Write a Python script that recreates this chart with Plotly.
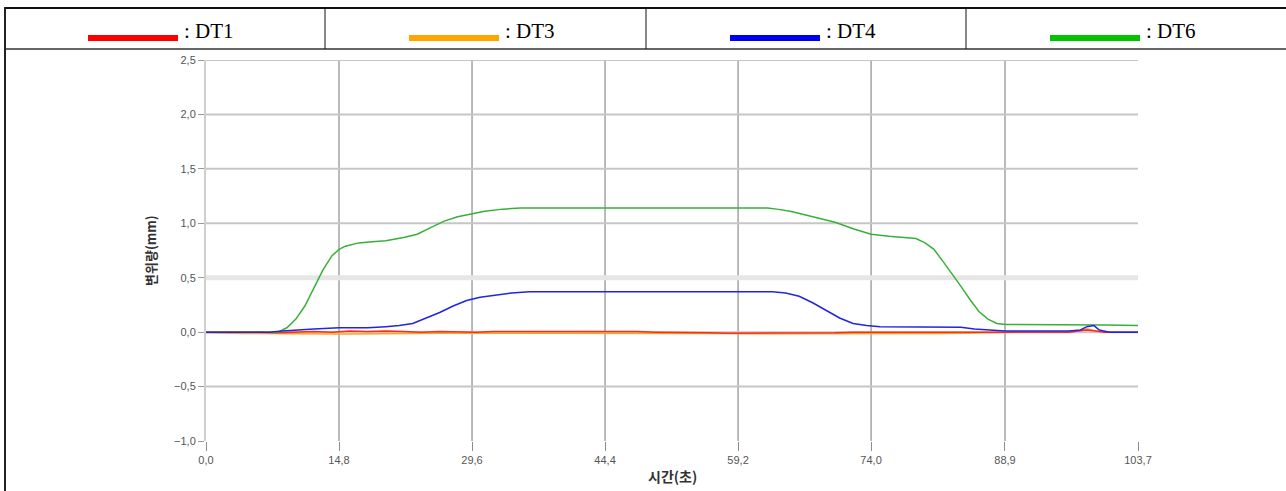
import plotly.graph_objects as go

W, H = 1286, 491

# ---------------- data ----------------
x_tickvals = [0.0, 14.8, 29.6, 44.4, 59.2, 74.0, 88.9, 103.7]
x_ticktext = ["0,0", "14,8", "29,6", "44,4", "59,2", "74,0", "88,9", "103,7"]
y_tickvals = [-1.0, -0.5, 0.0, 0.5, 1.0, 1.5, 2.0, 2.5]
y_ticktext = ["\u22121,0", "\u22120,5", "0,0", "0,5", "1,0", "1,5", "2,0", "2,5"]

series_names = ["DT1", "DT3", "DT4", "DT6"]

grid_t = [0, 2, 4, 6, 8, 10, 12, 14, 16, 18, 20, 22, 24, 26, 28, 30, 32, 34, 36, 38,
          40, 42, 44, 46, 48, 50, 52, 54, 56, 58, 60, 62, 64, 66, 68, 70, 72, 74, 76, 78,
          80, 82, 84, 86, 88, 90, 92, 94, 96, 97, 98, 99, 100, 102, 103.7]

dt1_v = [0.0, 0.0, 0.005, 0.0, -0.005, 0.0, 0.005, 0.0, 0.01, 0.005,
         0.01, 0.005, 0.0, 0.005, 0.0, 0.0, 0.005, 0.005, 0.01, 0.01,
         0.01, 0.01, 0.01, 0.005, 0.005, 0.0, 0.0, -0.005, -0.005, -0.01,
         -0.01, -0.005, -0.01, -0.005, -0.005, -0.005, 0.0, 0.0, 0.0, 0.0,
         0.0, 0.005, 0.005, 0.005, 0.0, 0.0, 0.0, 0.0, 0.0, 0.01,
         0.02, 0.01, 0.0, 0.0, 0.0]

dt3_v = [-0.005, -0.01, -0.012, -0.012, -0.015, -0.015, -0.015, -0.018, -0.018, -0.015,
         -0.015, -0.015, -0.012, -0.01, -0.01, -0.01, -0.008, -0.008, -0.008, -0.008,
         -0.008, -0.008, -0.008, -0.008, -0.008, -0.008, -0.008, -0.008, -0.01, -0.012,
         -0.015, -0.015, -0.018, -0.015, -0.015, -0.015, -0.015, -0.015, -0.015, -0.015,
         -0.015, -0.012, -0.01, -0.005, 0.0, 0.0, 0.0, 0.0, 0.0, 0.01,
         0.03, 0.01, 0.0, 0.0, 0.0]

dt4_t = [0, 7, 8.5, 10, 12, 14.8, 18, 20, 21.5, 23, 24.5, 26, 27.5, 29, 30.5, 32, 34, 36,
         40, 45, 50, 55, 60, 63, 64.5, 66, 67.5, 69, 70.5, 72, 73.5, 75, 80, 84, 85.5,
         87, 88.9, 92, 96, 97.3, 98, 98.8, 99.4, 100.5, 103.7]
dt4_v = [0.0, 0.0, 0.01, 0.02, 0.03, 0.04, 0.04, 0.05, 0.06, 0.08, 0.13, 0.18, 0.24, 0.29,
         0.32, 0.34, 0.36, 0.37, 0.37, 0.375, 0.37, 0.375, 0.37, 0.37, 0.36, 0.33, 0.27,
         0.20, 0.13, 0.08, 0.06, 0.05, 0.05, 0.045, 0.03, 0.02, 0.01, 0.01, 0.01, 0.02,
         0.05, 0.06, 0.02, 0.0, 0.0]

dt6_t = [0, 3, 6, 8, 9, 10, 11, 12, 13, 14, 14.8, 15.5, 17, 18.5, 20, 22, 23.5, 25, 26.5,
         28, 29.6, 31, 33, 35, 40, 45, 50, 55, 60, 62.5, 63.5, 65, 66.5, 68, 70, 72, 74,
         76, 78, 79, 80, 81, 82, 83, 84, 85, 86, 87, 88, 89, 92, 95, 98, 100, 103.7]
dt6_v = [0.0, 0.0, 0.0, 0.0, 0.04, 0.12, 0.24, 0.40, 0.57, 0.70, 0.76, 0.79, 0.82, 0.83,
         0.84, 0.87, 0.90, 0.96, 1.02, 1.06, 1.09, 1.11, 1.13, 1.14, 1.14, 1.14, 1.14,
         1.14, 1.14, 1.14, 1.13, 1.11, 1.08, 1.05, 1.01, 0.95, 0.90, 0.88, 0.87, 0.86,
         0.82, 0.76, 0.65, 0.54, 0.42, 0.30, 0.19, 0.12, 0.08, 0.07, 0.07, 0.07, 0.07,
         0.065, 0.06]

assert len(grid_t) == len(dt1_v) == len(dt3_v)
assert len(dt4_t) == len(dt4_v)
assert len(dt6_t) == len(dt6_v)

line_colors = {"DT1": "#ff2a1a", "DT3": "#ffa31a", "DT4": "#2323e6", "DT6": "#38b038"}
swatch_colors = {"DT1": "#ff0000", "DT3": "#ffa500", "DT4": "#0000f0", "DT6": "#00c400"}

# ---------------- helpers (pixel -> paper) ----------------
def X(px):
    return px / W

def Y(py):
    return 1 - py / H

PL, PR, PT, PB = 206, 1138, 60, 441

fig = go.Figure()

for name, tt, vv in [("DT3", grid_t, dt3_v), ("DT1", grid_t, dt1_v),
                     ("DT6", dt6_t, dt6_v), ("DT4", dt4_t, dt4_v)]:
    fig.add_trace(go.Scatter(x=tt, y=vv, mode="lines", name=name,
                             line=dict(color=line_colors[name], width=1.5),
                             showlegend=False, hoverinfo="skip"))

shapes = []
# horizontal gridlines
for v in y_tickvals:
    if v == -1.0:
        continue
    if v == 0.5:
        shapes.append(dict(type="line", xref="x", yref="y", x0=0, x1=x_tickvals[-1],
                           y0=v, y1=v, line=dict(color="#e6e6e6", width=5), layer="below"))
    else:
        shapes.append(dict(type="line", xref="x", yref="y", x0=0, x1=x_tickvals[-1],
                           y0=v, y1=v, line=dict(color="#c6c6c6", width=2), layer="below"))
# vertical gridlines
for v in x_tickvals[1:-1]:
    shapes.append(dict(type="line", xref="x", yref="paper", x0=v, x1=v,
                       y0=Y(PB), y1=Y(PT), line=dict(color="#8c8c8c", width=1.2), layer="below"))

# header table borders
shapes.append(dict(type="line", xref="paper", yref="paper", x0=X(4), x1=X(1286),
                   y0=Y(8), y1=Y(8), line=dict(color="#111", width=2)))
shapes.append(dict(type="line", xref="paper", yref="paper", x0=X(4), x1=X(1286),
                   y0=Y(49), y1=Y(49), line=dict(color="#333", width=1.5)))
shapes.append(dict(type="line", xref="paper", yref="paper", x0=X(5), x1=X(5),
                   y0=Y(7), y1=Y(491), line=dict(color="#222", width=2)))
for dx in [325, 646, 966]:
    shapes.append(dict(type="line", xref="paper", yref="paper", x0=X(dx), x1=X(dx),
                       y0=Y(8), y1=Y(49), line=dict(color="#111", width=1)))

annotations = []
cell_starts = [88, 409, 730, 1050]
for name, sx in zip(series_names, cell_starts):
    shapes.append(dict(type="rect", xref="paper", yref="paper", x0=X(sx), x1=X(sx + 90),
                       y0=Y(41), y1=Y(35), line=dict(width=0),
                       fillcolor=swatch_colors[name]))
    annotations.append(dict(xref="paper", yref="paper", x=X(sx + 94), y=Y(31),
                            text=": " + name, showarrow=False, xanchor="left",
                            yanchor="middle",
                            font=dict(family="Liberation Serif, Times New Roman, serif",
                                      size=21, color="#000")))

# axis titles
annotations.append(dict(xref="paper", yref="paper", x=X(672), y=Y(476), text="<b>시간(초)</b>",
                        showarrow=False, xanchor="center", yanchor="middle",
                        font=dict(family="Noto Sans CJK KR", size=14, color="#333")))
annotations.append(dict(xref="paper", yref="paper", x=X(150), y=Y(251), text="<b>변위량(mm)</b>",
                        showarrow=False, xanchor="center", yanchor="middle", textangle=-90,
                        font=dict(family="Noto Sans CJK KR", size=13, color="#333")))

fig.update_layout(
    width=W, height=H,
    margin=dict(l=0, r=0, t=0, b=0, autoexpand=False),
    paper_bgcolor="white", plot_bgcolor="white",
    shapes=shapes, annotations=annotations,
    xaxis=dict(domain=[X(PL), X(PR)], range=[0, x_tickvals[-1]],
               tickmode="array", tickvals=x_tickvals, ticktext=x_ticktext,
               showgrid=False, zeroline=False, showline=False,
               ticks="outside", ticklen=9, tickwidth=1, tickcolor="#8c8c8c",
               tickfont=dict(family="Liberation Sans", size=11, color="#555"),
               automargin=False, fixedrange=True),
    yaxis=dict(domain=[Y(PB), Y(PT)], range=[-1.0, 2.5],
               tickmode="array", tickvals=y_tickvals, ticktext=y_ticktext,
               showgrid=False, zeroline=False, showline=True,
               linecolor="#cfcfcf", linewidth=2,
               ticks="outside", ticklen=6, tickwidth=1, tickcolor="#999",
               tickfont=dict(family="Liberation Sans", size=11, color="#555"),
               automargin=False, fixedrange=True),
    showlegend=False,
)

fig.write_html(
    "out.html",
    config={"displayModeBar": False},
    post_script="document.body.style.margin='0';document.body.style.overflow='hidden';",
)
